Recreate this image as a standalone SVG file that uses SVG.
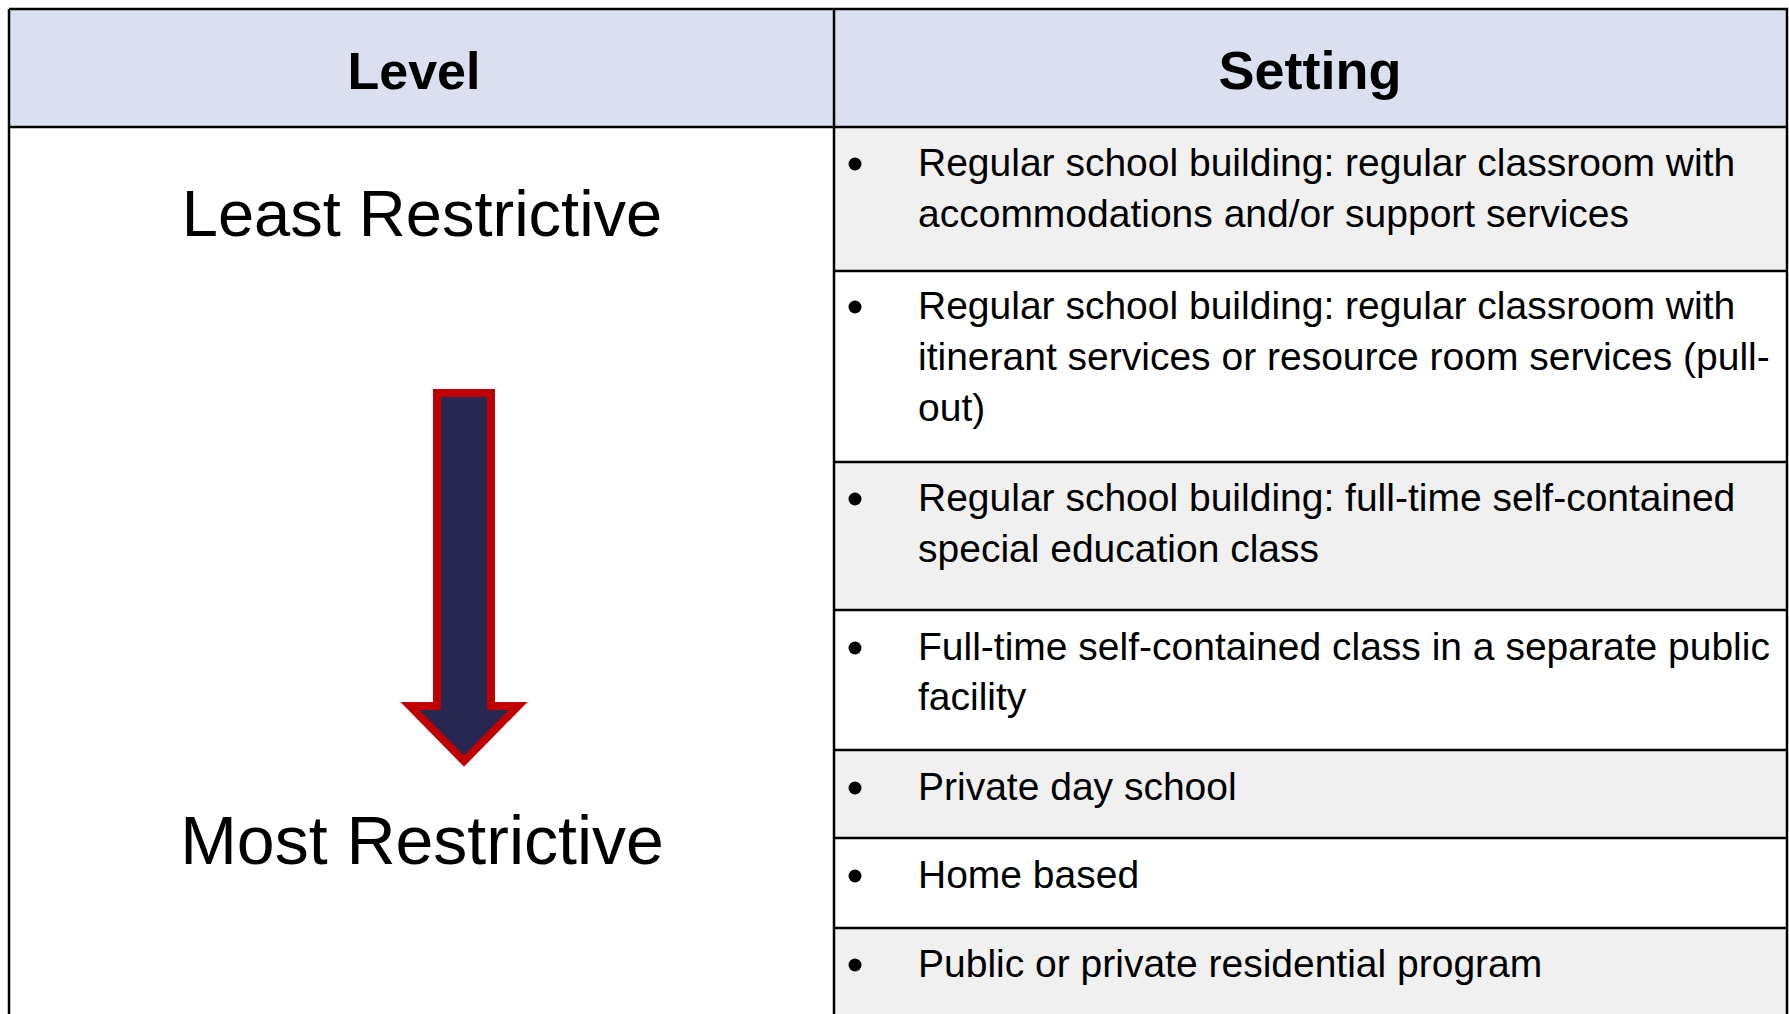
<svg xmlns="http://www.w3.org/2000/svg" width="1789" height="1014" viewBox="0 0 1789 1014">
<style>
.hdr{font-family:"Liberation Sans",Arial,sans-serif;font-weight:bold;fill:#000;text-anchor:middle}
.lvl{font-family:"Liberation Sans",Arial,sans-serif;fill:#000;text-anchor:middle}
.item{font-family:"Liberation Sans",Arial,sans-serif;font-size:39px;fill:#000}
.ln{stroke:#000;stroke-width:2.5;fill:none}
.gray{fill:#F0F0F0}
.white{fill:#FFFFFF}
</style>
<rect x="0" y="0" width="1789" height="1014" fill="#FFFFFF"/>
<g id="header">
<rect x="9" y="9" width="1778" height="118" fill="#DAE0F0"/>
<text class="hdr" x="414" y="89" font-size="52">Level</text>
<text class="hdr" x="1310" y="89" font-size="54">Setting</text>
</g>
<g id="level-column">
<rect x="9" y="127" width="825" height="900" class="white"/>
<text class="lvl" x="422" y="236" font-size="65">Least Restrictive</text>
<text class="lvl" x="422" y="864" font-size="68">Most Restrictive</text>
</g>
<g id="arrow">
<path d="M437,393 H491 V706 H518 L464,761 L410,706 H437 Z" fill="#262851" stroke="#C00000" stroke-width="8" stroke-linejoin="miter"/>
</g>
<g id="row1">
<rect x="834" y="127" width="953" height="144" class="gray"/>
<circle cx="855" cy="164" r="6.5"/>
<text class="item" x="918" y="176">Regular school building: regular classroom with</text>
<text class="item" x="918" y="227">accommodations and/or support services</text>
</g>
<g id="row2">
<rect x="834" y="271" width="953" height="191" class="white"/>
<circle cx="855" cy="307" r="6.5"/>
<text class="item" x="918" y="319">Regular school building: regular classroom with</text>
<text class="item" x="918" y="370">itinerant services or resource room services (pull-</text>
<text class="item" x="918" y="421">out)</text>
</g>
<g id="row3">
<rect x="834" y="462" width="953" height="148" class="gray"/>
<circle cx="855" cy="499" r="6.5"/>
<text class="item" x="918" y="511">Regular school building: full-time self-contained</text>
<text class="item" x="918" y="562">special education class</text>
</g>
<g id="row4">
<rect x="834" y="610" width="953" height="140" class="white"/>
<circle cx="855" cy="648" r="6.5"/>
<text class="item" x="918" y="660">Full-time self-contained class in a separate public</text>
<text class="item" x="918" y="710">facility</text>
</g>
<g id="row5">
<rect x="834" y="750" width="953" height="88" class="gray"/>
<circle cx="855" cy="788" r="6.5"/>
<text class="item" x="918" y="800">Private day school</text>
</g>
<g id="row6">
<rect x="834" y="838" width="953" height="90" class="white"/>
<circle cx="855" cy="876" r="6.5"/>
<text class="item" x="918" y="888">Home based</text>
</g>
<g id="row7">
<rect x="834" y="928" width="953" height="100" class="gray"/>
<circle cx="855" cy="965" r="6.5"/>
<text class="item" x="918" y="977">Public or private residential program</text>
</g>
<g id="grid">
<path class="ln" d="M9,9 H1787 V1020 M9,9 V1020 M834,9 V1020"/>
<path class="ln" d="M9,127 H1787"/>
<path class="ln" d="M834,271 H1787 M834,462 H1787 M834,610 H1787 M834,750 H1787 M834,838 H1787 M834,928 H1787"/>
</g>
</svg>
